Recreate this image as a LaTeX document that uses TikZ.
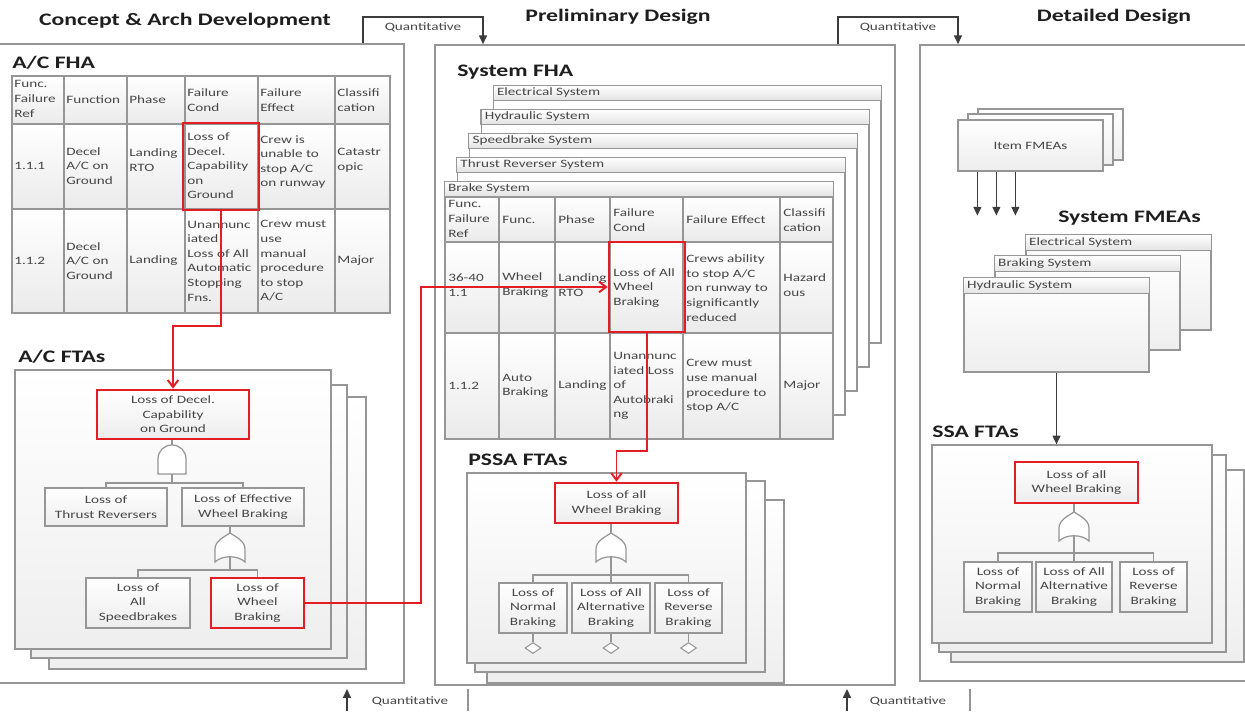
\documentclass[tikz,border=0pt]{standalone}
\usepackage{fontspec}
\setmainfont{Carlito}[FakeStretch=1.35]
\usetikzlibrary{arrows.meta,fit,shapes.geometric}

\definecolor{linegray}{RGB}{150,150,150}
\definecolor{txtgray}{RGB}{70,70,70}
\definecolor{headblack}{RGB}{30,30,30}
\definecolor{alarmred}{RGB}{228,28,36}
\definecolor{arrowgray}{RGB}{60,60,60}

\newcommand{\smallfnt}{\fontsize{6.4pt}{8.3pt}\selectfont}
\newcommand{\headfnt}{\fontsize{10pt}{12pt}\selectfont\bfseries}

\tikzset{
  andgate/.pic={
    \draw[gate] (-14,29) -- (-14,14) .. controls (-14,6) and (-8,0) .. (0,0)
      .. controls (8,0) and (14,6) .. (14,14) -- (14,29) -- cycle;
    \coordinate (-in) at (0,0);
    \coordinate (-out) at (0,29);
  },
  orgate/.pic={
    \draw[gate] (-15,29) .. controls (-8,22) and (8,22) .. (15,29) -- (15,16)
      .. controls (15,8) and (6,4) .. (0,0) .. controls (-6,4) and (-15,8) .. (-15,16) -- cycle;
    \coordinate (-in) at (0,0);
    \coordinate (-out) at (0,24);
  }
}

\begin{document}
\begin{tikzpicture}[x=0.02cm,y=-0.02cm,
  panel/.style={draw=linegray,line width=0.9pt,inner sep=0},
  sheet/.style={draw=linegray,line width=0.7pt,fill=white,inner sep=0},
  sheetback/.style={draw=linegray,line width=0.7pt,top color=white,bottom color=gray!13},
  boxsize/.style 2 args={minimum width=#1*0.02cm,minimum height=#2*0.02cm},
  ftbox/.style={draw=linegray,line width=0.7pt,top color=white,bottom color=gray!14,
    inner sep=0,align=center,font=\smallfnt,text=txtgray},
  redbox/.style={ftbox,draw=alarmred,line width=1.5pt},
  cellred/.style={draw=alarmred,line width=1.5pt,inner sep=0},
  cell/.style={anchor=west,align=left,font=\smallfnt,text=txtgray,inner sep=0},
  sheettitle/.style={anchor=west,font=\smallfnt,text=txtgray,inner sep=0},
  grid/.style={draw=linegray,line width=0.6pt},
  rowshade/.style={top color=white,bottom color=gray!16},
  gate/.style={draw=linegray,line width=0.7pt,fill=white},
  wire/.style={draw=linegray,line width=0.7pt},
  redline/.style={draw=alarmred,line width=1.1pt,-{Straight Barb[length=4pt,width=6pt]}},
  darrow/.style={draw=arrowgray,line width=0.8pt,-{Triangle[length=5pt,width=4.5pt]}},
  qtext/.style={font=\smallfnt,text=txtgray,inner sep=0},
  heading/.style={font=\headfnt,text=headblack,inner sep=0},
  undev/.style={diamond,draw=linegray,line width=0.6pt,fill=white,inner sep=0,
    minimum width=0.32cm,minimum height=0.22cm}]

\useasboundingbox (0,0) rectangle (1245,711);

% phase panels
\node[panel,fit={(-5,44) (404,683)}] (p1) {};
\node[panel,fit={(435,45) (895,685)}] (p2) {};
\node[panel,fit={(920,45) (1260,681)}] (p3) {};

\node[heading] (hd1) at (185,21) {Concept \& Arch Development};
\node[heading] (hd2) at (618,17) {Preliminary Design};
\node[heading] (hd3) at (1114,17) {Detailed Design};

% quantitative links
\draw[darrow] (p1.north -| 363,0) -- (363,17) -- node[qtext,below=3pt] (q1) {Quantitative} (483,17) -- (p2.north -| 483,0);
\draw[darrow] (p2.north -| 838,0) -- (838,17) -- node[qtext,below=3pt] (q2) {Quantitative} (958,17) -- (p3.north -| 958,0);
\coordinate (qb1) at (347,711);
\coordinate (qb2) at (847,711);
\draw[darrow] (qb1) -- ++(0,-22);
\draw[darrow] (qb2) -- ++(0,-22);
\node[qtext] (q3) at (410,701) {Quantitative};
\node[qtext] (q4) at (908,701) {Quantitative};
\draw[wire] (468,689) -- (468,711);
\draw[wire] (970,689) -- (970,711);

%% ---------------- A/C FHA
\node[heading,anchor=west] (lfha) at (12,63) {A/C FHA};
\foreach \ya/\yb in {76/124,124/209,209/313}
  \shade[rowshade] (12,\ya) rectangle (390,\yb);
\draw[grid] (12,76) rectangle (390,313);
\foreach \xx in {64,127,185,258,335} \draw[grid] (\xx,76) -- (\xx,313);
\foreach \yy in {124,209} \draw[grid] (12,\yy) -- (390,\yy);
\node[cell] (a01) at (14,99) {Func.\\Failure\\Ref};
\node[cell] (a02) at (66,100) {Function};
\node[cell] (a03) at (129,100) {Phase};
\node[cell] (a04) at (187,100) {Failure\\Cond};
\node[cell] (a05) at (260,100) {Failure\\Effect};
\node[cell] (a06) at (337,100) {Classifi\\cation};
\node[cell] (a11) at (14,166) {1.1.1};
\node[cell] (a12) at (66,166) {Decel\\A/C on\\Ground};
\node[cell] (a13) at (129,160) {Landing\\RTO};
\node[cell] (a14) at (187,166) {Loss of\\Decel.\\Capability\\on\\Ground};
\node[cell] (a15) at (260,162) {Crew is\\unable to\\stop A/C\\on runway};
\node[cell] (a16) at (337,160) {Catastr\\opic};
\node[cell] (a21) at (14,261) {1.1.2};
\node[cell] (a22) at (66,261) {Decel\\A/C on\\Ground};
\node[cell] (a23) at (129,261) {Landing};
\node[cell] (a24) at (187,261) {Unannunc\\iated\\Loss of All\\Automatic\\Stopping\\Fns.};
\node[cell] (a25) at (260,261) {Crew must\\use\\manual\\procedure\\to stop\\A/C};
\node[cell] (a26) at (337,261) {Major};
\node[cellred,fit={(183,123) (259,210)}] (fc1) {};

%% ---------------- A/C FTAs
\node[heading,anchor=west] (lacfta) at (18,357) {A/C FTAs};
\foreach \xa/\ya/\xb/\yb in {49/397/366/669,31/385/347/658}
  \draw[sheetback] (\xa,\ya) rectangle (\xb,\yb);
\node[sheetback,inner sep=0,fit={(15,370) (331,649)}] (acfta) {};
\node[redbox,boxsize={152}{49}] (top1) at (173,414.5) {Loss of Decel.\\Capability\\on Ground};
\node[ftbox,boxsize={122}{38}] (tr) at (106,507) {Loss of\\Thrust Reversers};
\node[ftbox,boxsize={122}{38}] (ew) at (243,507) {Loss of Effective\\Wheel Braking};
\node[ftbox,boxsize={104}{50}] (sb) at (138,603) {Loss of\\All\\Speedbrakes};
\node[redbox,boxsize={93}{50}] (wb) at (257.5,603) {Loss of\\Wheel\\Braking};
\pic (g1) at (172,445) {andgate};
\draw[wire] (g1-in |- top1.south) -- (g1-in);
\draw[wire] (g1-out) -- ++(0,9) -| (tr.north);
\draw[wire] (g1-out) -- ++(0,9) -| (ew.north);
\pic (g2) at (230,533) {orgate};
\draw[wire] (g2-in |- ew.south) -- (g2-in);
\draw[wire] (g2-out) -- ++(0,13) -| (sb.north);
\draw[wire] (g2-out) -- ++(0,13) -| (wb.north);

%% ---------------- System FHA
\node[heading,anchor=west] (lsfha) at (457,72) {System FHA};
\foreach \i/\t in {4/Electrical System,3/Hydraulic System,2/Speedbrake System,1/Thrust Reverser System,0/Brake System}{
  \node[sheet,fit={({445+12.2*\i},{182-24*\i}) ({833+12*\i},{439-24*\i})}] (fhs\i) {};
  \draw[grid,top color=white,bottom color=gray!22] (fhs\i.north west) rectangle ([yshift=-0.3cm]fhs\i.north east);
  \node[sheettitle] (fht\i) at ([xshift=0.07cm,yshift=-0.15cm]fhs\i.north west) {\t};
}
\foreach \ya/\yb in {197/242,242/333,333/439}
  \shade[rowshade] (445,\ya) rectangle (833,\yb);
\draw[grid] (445,197) rectangle (833,439);
\foreach \xx in {499,555,610,683,780} \draw[grid] (\xx,197) -- (\xx,439);
\foreach \yy in {242,333} \draw[grid] (445,\yy) -- (833,\yy);
\node[cell] (b01) at (448,219) {Func.\\Failure\\Ref};
\node[cell] (b02) at (502,220) {Func.};
\node[cell] (b03) at (558,220) {Phase};
\node[cell] (b04) at (613,220) {Failure\\Cond};
\node[cell] (b05) at (686,220) {Failure Effect};
\node[cell] (b06) at (783,220) {Classifi\\cation};
\node[cell] (b11) at (448,285) {36-40\\1.1};
\node[cell] (b12) at (502,285) {Wheel\\Braking};
\node[cell] (b13) at (558,285) {Landing\\RTO};
\node[cell] (b14) at (613,288) {Loss of All\\Wheel\\Braking};
\node[cell] (b15) at (686,288) {Crews ability\\to stop A/C\\on runway to\\significantly\\reduced};
\node[cell] (b16) at (783,285) {Hazard\\ous};
\node[cell] (b21) at (448,386) {1.1.2};
\node[cell] (b22) at (502,386) {Auto\\Braking};
\node[cell] (b23) at (558,386) {Landing};
\node[cell] (b24) at (613,386) {Unannunc\\iated Loss\\of\\Autobraki\\ng};
\node[cell] (b25) at (686,386) {Crew must\\use manual\\procedure to\\stop A/C};
\node[cell] (b26) at (783,386) {Major};
\node[cellred,fit={(609,242) (685,332)}] (fc2) {};

%% ---------------- PSSA FTAs
\node[heading,anchor=west] (lpssa) at (468,460) {PSSA FTAs};
\foreach \xa/\ya/\xb/\yb in {487/500/784/683,475/481/765/672}
  \draw[sheetback] (\xa,\ya) rectangle (\xb,\yb);
\node[sheetback,inner sep=0,fit={(467,473) (746,663)}] (pssa) {};
\node[redbox,boxsize={123}{40}] (ptop) at (616.5,503) {Loss of all\\Wheel Braking};
\node[ftbox,boxsize={68}{50}] (pn) at (533,608) {Loss of\\Normal\\Braking};
\node[ftbox,boxsize={78}{50}] (pa) at (611,608) {Loss of All\\Alternative\\Braking};
\node[ftbox,boxsize={67}{50}] (pr) at (688.5,608) {Loss of\\Reverse\\Braking};
\pic (g3) at (611,533) {orgate};
\draw[wire] (g3-in |- ptop.south) -- (g3-in);
\draw[wire] (g3-out) -- (pa.north);
\draw[wire] (g3-out) -- ++(0,18) -| (pn.north);
\draw[wire] (g3-out) -- ++(0,18) -| (pr.north);
\node[undev] (dn) at (pn.south |- 0,648) {};
\node[undev] (da) at (pa.south |- 0,648) {};
\node[undev] (dr) at (pr.south |- 0,648) {};
\draw[wire] (pn.south) -- (dn.north);
\draw[wire] (pa.south) -- (da.north);
\draw[wire] (pr.south) -- (dr.north);

%% ---------------- Item and System FMEAs
\foreach \xa/\ya/\xb/\yb in {978/109/1123/160,968/114/1113/165}
  \draw[sheetback] (\xa,\ya) rectangle (\xb,\yb);
\node[ftbox,boxsize={145}{51}] (item) at (1030.5,145.5) {Item FMEAs};
\foreach \dx in {20,39,58}
  \draw[darrow] ([xshift=\dx*0.02cm]item.south west) -- ++(0,44);
\node[heading,anchor=west] (lsfmea) at (1058,218) {System FMEAs};
\foreach \xa/\ya/\xb/\yb/\t/\n in {1026/235/1211/330/Electrical System/1,995/256/1180/350/Braking System/2,964/278/1149/372/Hydraulic System/3}{
  \node[sheetback,inner sep=0,fit={(\xa,\ya) (\xb,\yb)}] (fm\n) {};
  \draw[grid,top color=white,bottom color=gray!22] (fm\n.north west) rectangle ([yshift=-0.33cm]fm\n.north east);
  \node[sheettitle] (fmt\n) at ([xshift=0.07cm,yshift=-0.165cm]fm\n.north west) {\t};
}

%% ---------------- SSA FTAs
\node[heading,anchor=west] (lssa) at (932,432) {SSA FTAs};
\foreach \xa/\ya/\xb/\yb in {951/470/1244/662,939/455/1226/652}
  \draw[sheetback] (\xa,\ya) rectangle (\xb,\yb);
\node[sheetback,inner sep=0,fit={(932,445) (1212,643)}] (ssa) {};
\draw[darrow] (fm3.south) -- (fm3.south |- ssa.north);
\node[redbox,boxsize={123}{41}] (stop) at (1076.5,482.5) {Loss of all\\Wheel Braking};
\node[ftbox,boxsize={68}{50}] (sn) at (998,587) {Loss of\\Normal\\Braking};
\node[ftbox,boxsize={76}{50}] (sa) at (1074,587) {Loss of All\\Alternative\\Braking};
\node[ftbox,boxsize={67}{50}] (sr) at (1153.5,587) {Loss of\\Reverse\\Braking};
\pic (g4) at (1074,512) {orgate};
\draw[wire] (g4-in |- stop.south) -- (g4-in);
\draw[wire] (g4-out) -- (sa.north);
\draw[wire] (g4-out) -- ++(0,17) -| (sn.north);
\draw[wire] (g4-out) -- ++(0,17) -| (sr.north);

%% ---------------- red traces
\draw[redline] (fc1.south) -- ++(0,115) -| (top1.north);
\draw[redline] (wb.east) -- ++(116,0) |- (fc2.west);
\draw[redline] (fc2.south) -- ++(0,118) -| (ptop.north);

\end{tikzpicture}
\end{document}
